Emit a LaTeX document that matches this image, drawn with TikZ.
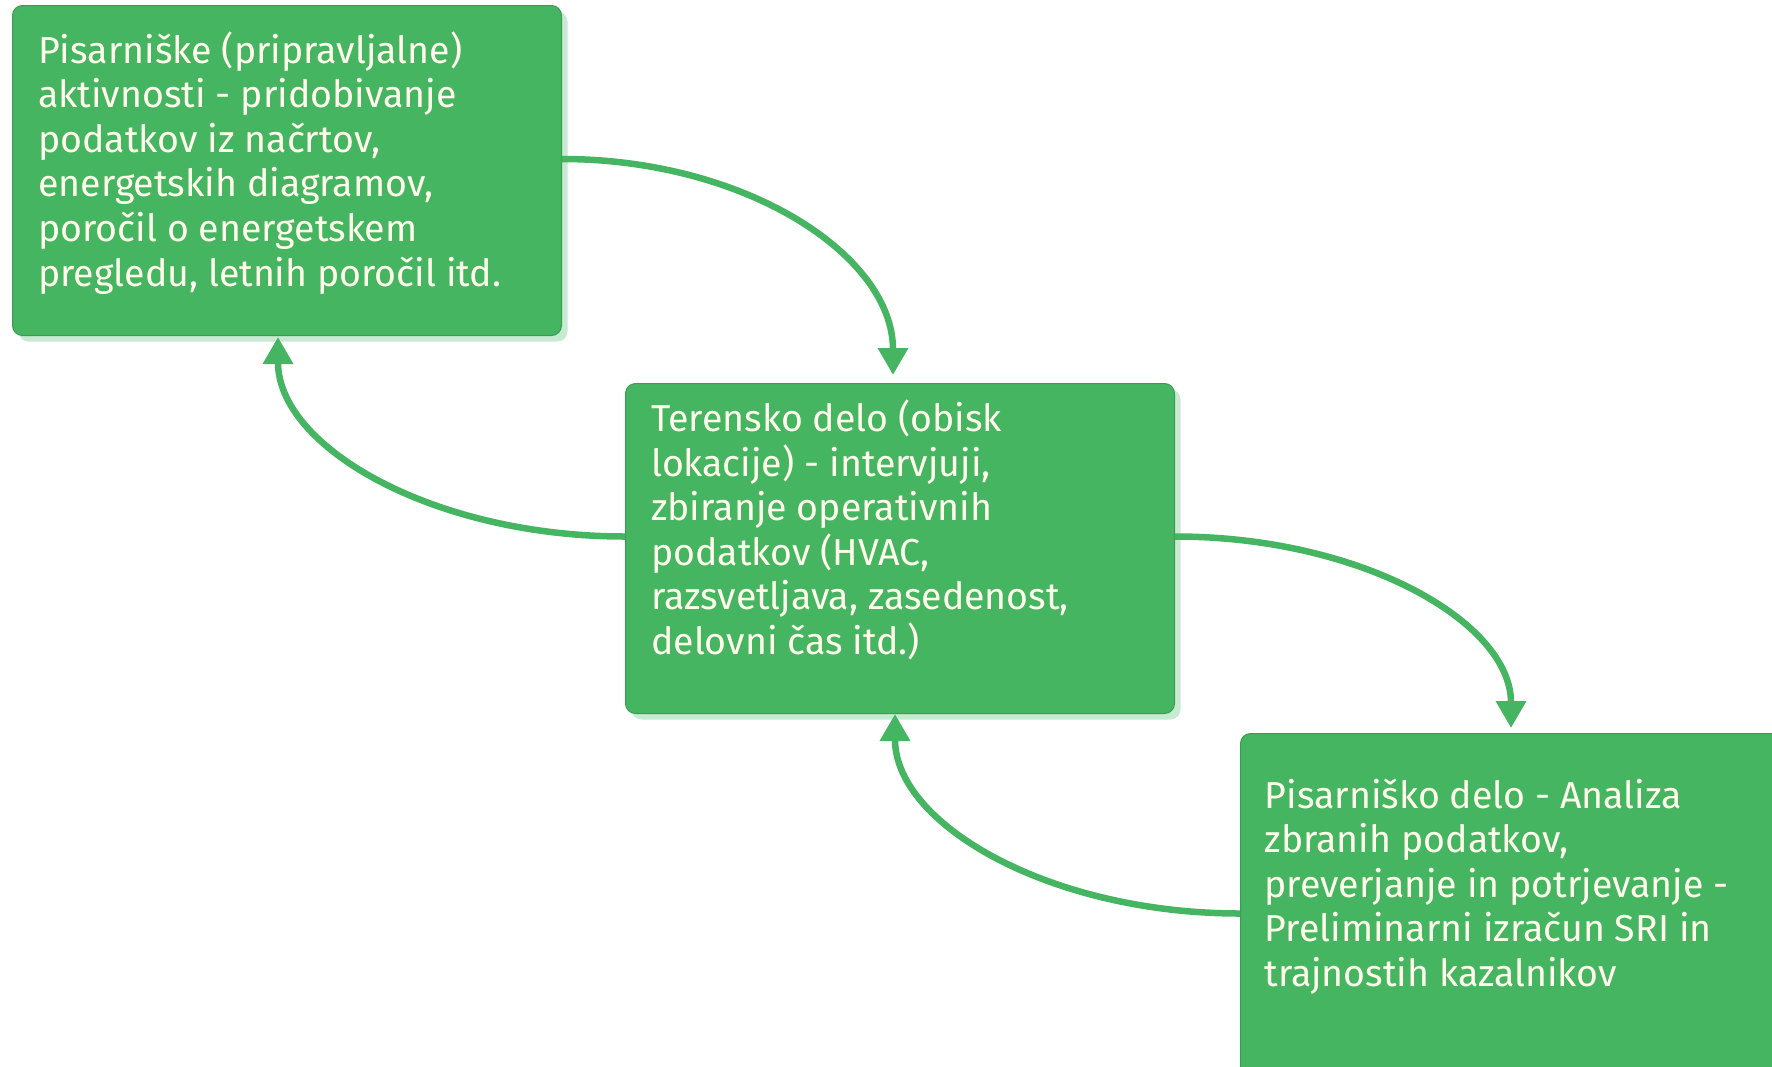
\documentclass[tikz,border=0pt]{standalone}
\usepackage{fontspec}
\setmainfont{Fira Sans}
\usetikzlibrary{arrows.meta,shadows}
\definecolor{boxgreen}{HTML}{45B562}
\definecolor{edgegreen}{HTML}{3A9C52}
\definecolor{shadegreen}{HTML}{C9EAD2}
\definecolor{txtcol}{HTML}{FFFFEC}
\begin{document}
\begin{tikzpicture}[x=1pt,y=-1pt,
  stepbox/.style={draw=edgegreen, line width=1pt, fill=boxgreen, rounded corners=10pt,
    minimum width=549pt, minimum height=330pt, anchor=north west, inner sep=0pt,
    copy shadow={shadow xshift=6pt, shadow yshift=-6pt, fill=shadegreen, draw=none}},
  boxtext/.style={anchor=base west, inner sep=0pt, text=txtcol,
    font=\fontsize{37.5}{44.6}\selectfont},
  link/.style={draw=boxgreen, line width=6.5pt, -{Triangle[width=29pt,length=27pt]}}
]
\useasboundingbox (0,0) rectangle (1772,1066);
\clip (0,0) rectangle (1772,1066);
\fill[white] (0,0) rectangle (1772,1066);

\node[stepbox] (b1) at (12,5) {};
\node[stepbox] (b2) at (625,383) {};
\node[stepbox, minimum height=345pt] (b3) at (1240,733) {};

\node[boxtext] (t1) at (38,63) {\parbox[t]{520pt}{\raggedright
Pisarniške (pripravljalne)\\
aktivnosti - pridobivanje\\
podatkov iz načrtov,\\
energetskih diagramov,\\
poročil o energetskem\\
pregledu, letnih poročil itd.}};

\node[boxtext] (t2) at (651,431.5) {\parbox[t]{520pt}{\raggedright
Terensko delo (obisk\\
lokacije) - intervjuji,\\
zbiranje operativnih\\
podatkov (HVAC,\\
razsvetljava, zasedenost,\\
delovni čas itd.)}};

\node[boxtext] (t3) at (1264.5,808) {\parbox[t]{520pt}{\raggedright
Pisarniško delo - Analiza\\
zbranih podatkov,\\
preverjanje in potrjevanje -\\
Preliminarni izračun SRI in\\
trajnostih kazalnikov}};

\coordinate (p1) at (893,375);
\coordinate (p2) at (278,337);
\coordinate (p3) at (1511,728);
\coordinate (p4) at (895,714);

\draw[link] ([yshift=11.5pt]b1.east) .. controls +(183,0) and +(0,-120) .. (p1);
\draw[link] ([yshift=12pt]b2.west) .. controls +(-192,0) and +(0,110) .. (p2);
\draw[link] ([yshift=12pt]b2.east) .. controls +(186,0) and +(0,-106) .. (p3);
\draw[link] ([yshift=-7.5pt]b3.west) .. controls +(-191,0) and +(0,110) .. (p4);
\end{tikzpicture}
\end{document}
